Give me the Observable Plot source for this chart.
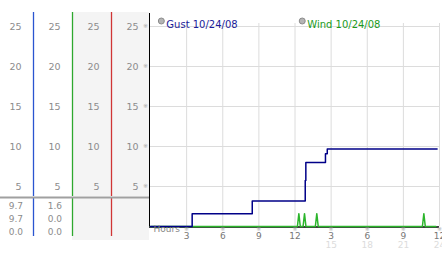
<!DOCTYPE html>
<html><head><meta charset="utf-8">
<script src="https://cdn.jsdelivr.net/npm/d3@7"></script>
<script src="https://cdn.jsdelivr.net/npm/@observablehq/plot@0.6"></script>
<style>
html,body{margin:0;padding:0;background:#fff;}
#wrap{position:relative;width:442px;height:253px;overflow:hidden;}
#left{position:absolute;left:0;top:0;width:149px;}
#main{position:absolute;left:149px;top:0;}
svg{display:block;}
</style></head><body>
<div id="wrap"><div id="left"></div><div id="main"></div></div>
<script>
// ---- data ----
const yTicks = [5, 10, 15, 20, 25];
const xTicks = [3, 6, 9, 12, 15, 18, 21, 24];
const xTickLabels = ["3", "6", "9", "12", "3", "6", "9", "12"];
const xTickLabels2 = ["", "", "", "", "15", "18", "21", "24"];
const gustHours = [0, 3.46, 8.45, 12.85, 12.9, 14.53, 14.68, 23.8];
const gustSpeed = [0, 1.6, 3.2, 5.75, 8.0, 9.1, 9.7, 9.7];
const windHours = [0, 12.2, 12.32, 12.44, 12.67, 12.79, 12.91, 13.69, 13.81, 13.93, 22.58, 22.7, 22.82, 23.7];
const windSpeed = [0, 0, 1.6, 0, 0, 1.6, 0, 0, 1.6, 0, 0, 1.6, 0, 0];
const seriesLabels = ["Gust 10/24/08", "Wind 10/24/08"];
const legendAt = [0.9, 12.6];
const legendColors = ["#1c1c9a", "#1c9a1c"];
const lineColors = ["#000088", "#2bb52b"];
const columns = [0, 1, 2, 3];
const shadedCols = [2, 3];
const columnLineColors = ["#2a55d0", "#2ea82e", "#d03535"];
const statRows = ["max", "last", "min"];
const gustStats = [9.7, 9.7, 0.0];
const windStats = [1.6, 0.0, 0.0];

const gust = gustHours.map((h, i) => ({h, v: gustSpeed[i]}));
const wind = windHours.map((h, i) => ({h, v: windSpeed[i]}));
const legend = seriesLabels.map((label, i) => ({label, at: legendAt[i], color: legendColors[i]}));
const xt = xTicks.map((t, i) => ({t, a: xTickLabels[i], b: xTickLabels2[i]}));
const colLines = columnLineColors.map((color, i) => ({pos: i + 1, color}));

const font = "DejaVu Sans";
const colX = {domain: [0, 4], range: [-6, 150], axis: null};
const yS = {domain: [0, 25], range: [226, 26], axis: null};

const leftTop = Plot.plot({
  width: 149, height: 196, marginTop: 12, marginBottom: 0, marginLeft: 0, marginRight: 0,
  x: colX, y: yS, color: {type: "identity"},
  style: {fontFamily: font, background: "transparent"},
  marks: [
    Plot.barX(shadedCols, {x1: d => d, x2: d => d + 1, fill: "#f4f4f4"}),
    Plot.ruleX(colLines, {x: "pos", stroke: "color", strokeWidth: 1.3}),
    ...columns.map(k => Plot.text(yTicks, {x: () => k + 1, y: d => d, text: d => String(d), dx: -12, textAnchor: "end", fill: "#8c8c8c", fontSize: 9.5})),
    Plot.text(yTicks, {x: () => 4, y: d => d, text: () => "※", dx: -5, fill: "#aaa", fontSize: 6})
  ]
});

const leftBottom = Plot.plot({
  width: 149, height: 57, marginTop: 1, marginBottom: 13, marginLeft: 0, marginRight: 0,
  x: colX, y: {type: "point", domain: statRows, range: [9, 36], padding: 0, axis: null},
  color: {type: "identity"},
  style: {fontFamily: font, background: "transparent"},
  marks: [
    Plot.barX(shadedCols, {x1: d => d, x2: d => d + 1, fill: "#f4f4f4"}),
    Plot.ruleX(colLines, {x: "pos", stroke: "color", strokeWidth: 1.3, insetBottom: 4}),
    Plot.frame({anchor: "top", stroke: "#a0a0a0", strokeWidth: 2}),
    Plot.text(statRows, {x: () => 1, y: d => d, text: (d, i) => gustStats[i].toFixed(1), dx: -10.5, textAnchor: "end", fill: "#8c8c8c", fontSize: 9}),
    Plot.text(statRows, {x: () => 2, y: d => d, text: (d, i) => windStats[i].toFixed(1), dx: -10.5, textAnchor: "end", fill: "#8c8c8c", fontSize: 9})
  ]
});

const left = document.getElementById("left");
left.appendChild(leftTop);
left.appendChild(leftBottom);

const main = Plot.plot({
  width: 293, height: 253, marginTop: 23, marginBottom: 27, marginLeft: 0, marginRight: 3,
  x: {domain: [0, 24], range: [1, 290], axis: null},
  y: yS,
  style: {fontFamily: font, background: "transparent"},
  marks: [
    Plot.ruleY(yTicks, {stroke: "#dcdcdc"}),
    Plot.ruleX(xTicks, {stroke: "#dcdcdc"}),
    Plot.ruleY([0], {stroke: "#000", strokeWidth: 1.5, dy: 0.5}),
    Plot.ruleX([0], {stroke: "#000", dx: -1, insetTop: -10}),
    Plot.line(wind, {x: "h", y: "v", stroke: lineColors[1], strokeWidth: 1.5}),
    Plot.line(gust, {x: "h", y: "v", curve: "step-after", stroke: lineColors[0], strokeWidth: 1.5}),
    Plot.dot(legend, {x: "at", frameAnchor: "top", dy: -2.5, r: 3, fill: "#b4b4b4", stroke: "#8c8c8c", strokeWidth: 1}),
    Plot.text(legend, {x: "at", frameAnchor: "top", dy: -2.5, dx: 5, text: "label", fill: "color", textAnchor: "start", fontSize: 10}),
    Plot.text(xt, {x: "t", frameAnchor: "bottom", dy: 4, text: () => "※", fill: "#aaa", fontSize: 6}),
    Plot.text(xt, {x: "t", frameAnchor: "bottom", dy: 12, text: "a", fill: "#777", fontSize: 9}),
    Plot.text(xt, {x: "t", frameAnchor: "bottom", dy: 21, text: "b", fill: "#dcdcdc", fontSize: 9}),
    Plot.text(["Hours"], {x: () => 0, frameAnchor: "bottom", dy: 5, dx: 3, text: d => d, textAnchor: "start", fill: "#888", fontSize: 9})
  ]
});
document.getElementById("main").appendChild(main);
</script>
</body></html>
